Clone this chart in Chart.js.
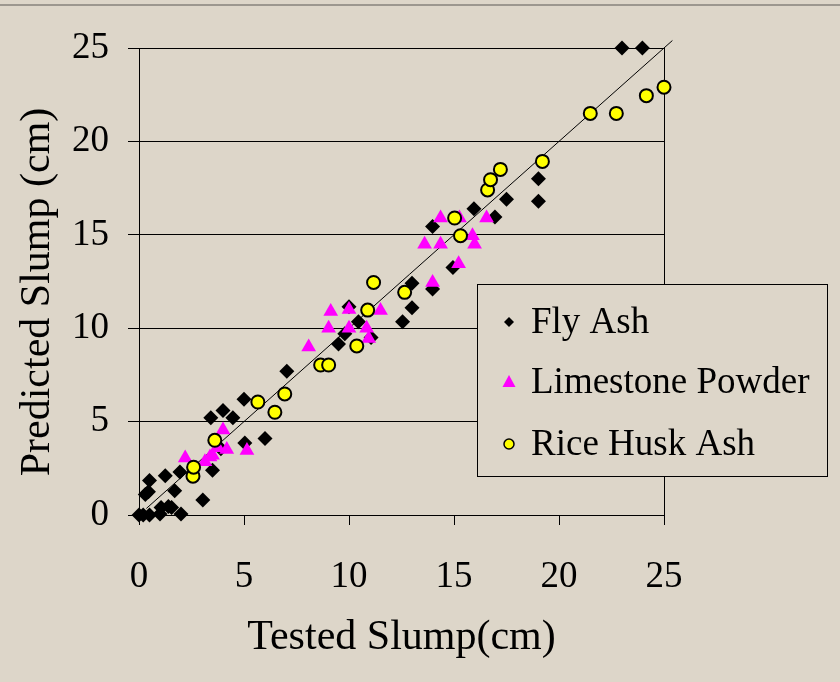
<!DOCTYPE html>
<html>
<head>
<meta charset="utf-8">
<title>Tested vs Predicted Slump</title>
<script src="https://cdn.jsdelivr.net/npm/chart.js@4.4.0/dist/chart.umd.min.js"></script>
<style>
  html, body { margin: 0; padding: 0; background: #ddd6c9; }
  #wrap { width: 840px; height: 682px; }
</style>
</head>
<body>
<div id="wrap"><canvas id="slumpChart" width="840" height="682"></canvas></div>
<script>
// tested slump (x) and predicted slump (y), cm
const flyAshTested = [0, 0.2, 0.5, 0.3, 0.45, 0.5, 1.0, 1.05, 1.25, 1.4, 1.55, 1.7, 2.0, 1.95, 3.04, 3.5, 3.9,
  3.42, 4.0, 4.47, 5.0, 5.04, 6.0, 7.04, 9.5, 9.8, 10.0, 10.45, 11.05, 12.55, 13.0, 13.0, 13.98, 13.98,
  14.95, 15.95, 16.95, 17.5, 19.02, 19.02, 23.0, 23.97];
const flyAshPredicted = [0, 0, 0, 1.1, 1.25, 1.85, 0.05, 0.4, 2.1, 0.45, 0.4, 1.3, 0.05, 2.3, 0.8, 2.4, 3.55,
  5.2, 5.6, 5.2, 6.2, 3.85, 4.1, 7.7, 9.15, 9.7, 11.15, 10.35, 9.5, 10.35, 12.4, 11.1, 15.45, 12.1,
  13.25, 16.4, 15.95, 16.9, 18.0, 16.8, 25, 25];

const limestoneTested = [2.2, 3.14, 3.38, 3.5, 3.76, 4.0, 4.18, 5.14, 8.08, 9.03, 9.13, 10.0, 10.0, 10.84,
  10.94, 11.5, 13.6, 13.98, 14.36, 14.36, 15.22, 15.26, 15.88, 15.98, 16.55];
const limestonePredicted = [3.05, 2.85, 3.1, 3.2, 3.6, 4.55, 3.5, 3.45, 9.0, 10.0, 10.9, 11.0, 10.0, 10.0,
  9.45, 10.95, 14.5, 12.45, 15.9, 14.5, 13.45, 15.9, 14.95, 14.5, 15.9];

const riceHuskTested = [2.57, 2.6, 3.61, 5.66, 6.47, 6.94, 8.65, 9.03, 10.37, 10.89, 11.17, 12.65, 15.03,
  15.31, 16.6, 16.74, 17.21, 19.21, 21.49, 22.73, 24.16, 25.0];
const riceHuskPredicted = [2.08, 2.56, 4.0, 6.05, 5.5, 6.48, 8.03, 8.03, 9.05, 10.97, 12.45, 11.92, 15.9,
  14.95, 17.4, 17.95, 18.5, 18.93, 21.5, 21.5, 22.45, 22.9];

// line of equality
const equalityLine = [0.35, 25.4];

const axisMin = 0;
const axisMax = 25;
const axisStep = 5;

const BG = '#ddd6c9';
const SERIF = '"Liberation Serif", "Times New Roman", serif';

function pairs(xs, ys) {
  return xs.map((x, i) => ({ x: x, y: ys[i] }));
}

// background, top rule and the right side of the plot frame
const framePlugin = {
  id: 'frame',
  beforeDraw(chart) {
    const ctx = chart.ctx;
    ctx.save();
    ctx.fillStyle = BG;
    ctx.fillRect(0, 0, chart.width, chart.height);
    ctx.fillStyle = '#9c978f';
    ctx.fillRect(0, 4, chart.width, 2);
    ctx.restore();
  },
  beforeDatasetsDraw(chart) {
    const a = chart.chartArea;
    const ctx = chart.ctx;
    ctx.save();
    ctx.strokeStyle = '#000';
    ctx.lineWidth = 1;
    ctx.beginPath();
    ctx.moveTo(Math.round(a.right) + 0.5, a.top);
    ctx.lineTo(Math.round(a.right) + 0.5, a.bottom);
    ctx.stroke();
    ctx.restore();
  }
};

// boxed legend sitting over the lower right of the plot
const boxLegend = {
  id: 'boxLegend',
  afterDraw(chart) {
    const ctx = chart.ctx;
    const box = { x: 477.5, y: 284.5, w: 350, h: 192 };
    ctx.save();
    ctx.fillStyle = BG;
    ctx.fillRect(box.x, box.y, box.w, box.h);
    ctx.strokeStyle = '#000';
    ctx.lineWidth = 1;
    ctx.strokeRect(box.x, box.y, box.w, box.h);

    const rows = [322, 382, 444];
    const mx = 509;
    ctx.font = '37px ' + SERIF;
    ctx.textBaseline = 'middle';
    chart.data.datasets.slice(0, 3).forEach((ds, i) => {
      const y = rows[i];
      ctx.fillStyle = ds.backgroundColor;
      ctx.strokeStyle = '#000';
      ctx.beginPath();
      if (ds.pointStyle === 'rectRot') {
        ctx.moveTo(mx, y - 5);
        ctx.lineTo(mx + 5, y);
        ctx.lineTo(mx, y + 5);
        ctx.lineTo(mx - 5, y);
        ctx.closePath();
        ctx.fill();
      } else if (ds.pointStyle === 'triangle') {
        ctx.moveTo(mx, y - 7);
        ctx.lineTo(mx + 6.5, y + 5);
        ctx.lineTo(mx - 6.5, y + 5);
        ctx.closePath();
        ctx.fill();
      } else {
        ctx.arc(mx, y, 5, 0, Math.PI * 2);
        ctx.fill();
        ctx.lineWidth = 1.5;
        ctx.stroke();
      }
      ctx.fillStyle = '#000';
      ctx.fillText(ds.label, 531, y + 1);
    });
    ctx.restore();
  }
};

new Chart(document.getElementById('slumpChart'), {
  type: 'scatter',
  data: {
    datasets: [
      {
        label: 'Fly Ash',
        data: pairs(flyAshTested, flyAshPredicted),
        pointStyle: 'rectRot',
        pointRadius: 7.5,
        backgroundColor: '#000000',
        borderWidth: 0,
        clip: false,
        order: 3
      },
      {
        label: 'Limestone Powder',
        data: pairs(limestoneTested, limestonePredicted),
        pointStyle: 'triangle',
        pointRadius: 8.5,
        backgroundColor: '#ff00ff',
        borderWidth: 0,
        clip: false,
        order: 2
      },
      {
        label: 'Rice Husk Ash',
        data: pairs(riceHuskTested, riceHuskPredicted),
        pointStyle: 'circle',
        pointRadius: 6.5,
        backgroundColor: '#ffff00',
        borderColor: '#000000',
        borderWidth: 2,
        clip: false,
        order: 1
      },
      {
        type: 'line',
        label: 'y = x',
        data: pairs(equalityLine, equalityLine),
        borderColor: '#000000',
        borderWidth: 1,
        pointRadius: 0,
        fill: false,
        clip: false,
        order: 4
      }
    ]
  },
  options: {
    responsive: false,
    animation: false,
    events: [],
    layout: { padding: { top: 48, right: 176, left: 0, bottom: 0 } },
    plugins: {
      legend: { display: false },
      tooltip: { enabled: false }
    },
    scales: {
      x: {
        type: 'linear',
        min: axisMin,
        max: axisMax,
        afterFit(scale) { scale.height = 167; },
        ticks: {
          stepSize: axisStep,
          color: '#000',
          padding: 30,
          maxRotation: 0,
          font: { family: SERIF, size: 37 }
        },
        grid: { drawOnChartArea: false, color: '#000', tickLength: 10 },
        border: { color: '#000', width: 1 },
        title: {
          display: true,
          text: 'Tested Slump(cm)',
          color: '#000',
          font: { family: SERIF, size: 42 },
          padding: { top: 0, bottom: 19 }
        }
      },
      y: {
        type: 'linear',
        min: axisMin,
        max: axisMax,
        afterFit(scale) { scale.width = 139; },
        ticks: {
          stepSize: axisStep,
          color: '#000',
          padding: 19,
          font: { family: SERIF, size: 37 }
        },
        grid: { color: '#000', tickLength: 11 },
        border: { color: '#000', width: 1 },
        title: {
          display: true,
          text: 'Predicted Slump (cm)  ',
          color: '#000',
          font: { family: SERIF, size: 42 },
          padding: { top: 13, bottom: 0 }
        }
      }
    }
  },
  plugins: [framePlugin, boxLegend]
});
</script>
</body>
</html>
